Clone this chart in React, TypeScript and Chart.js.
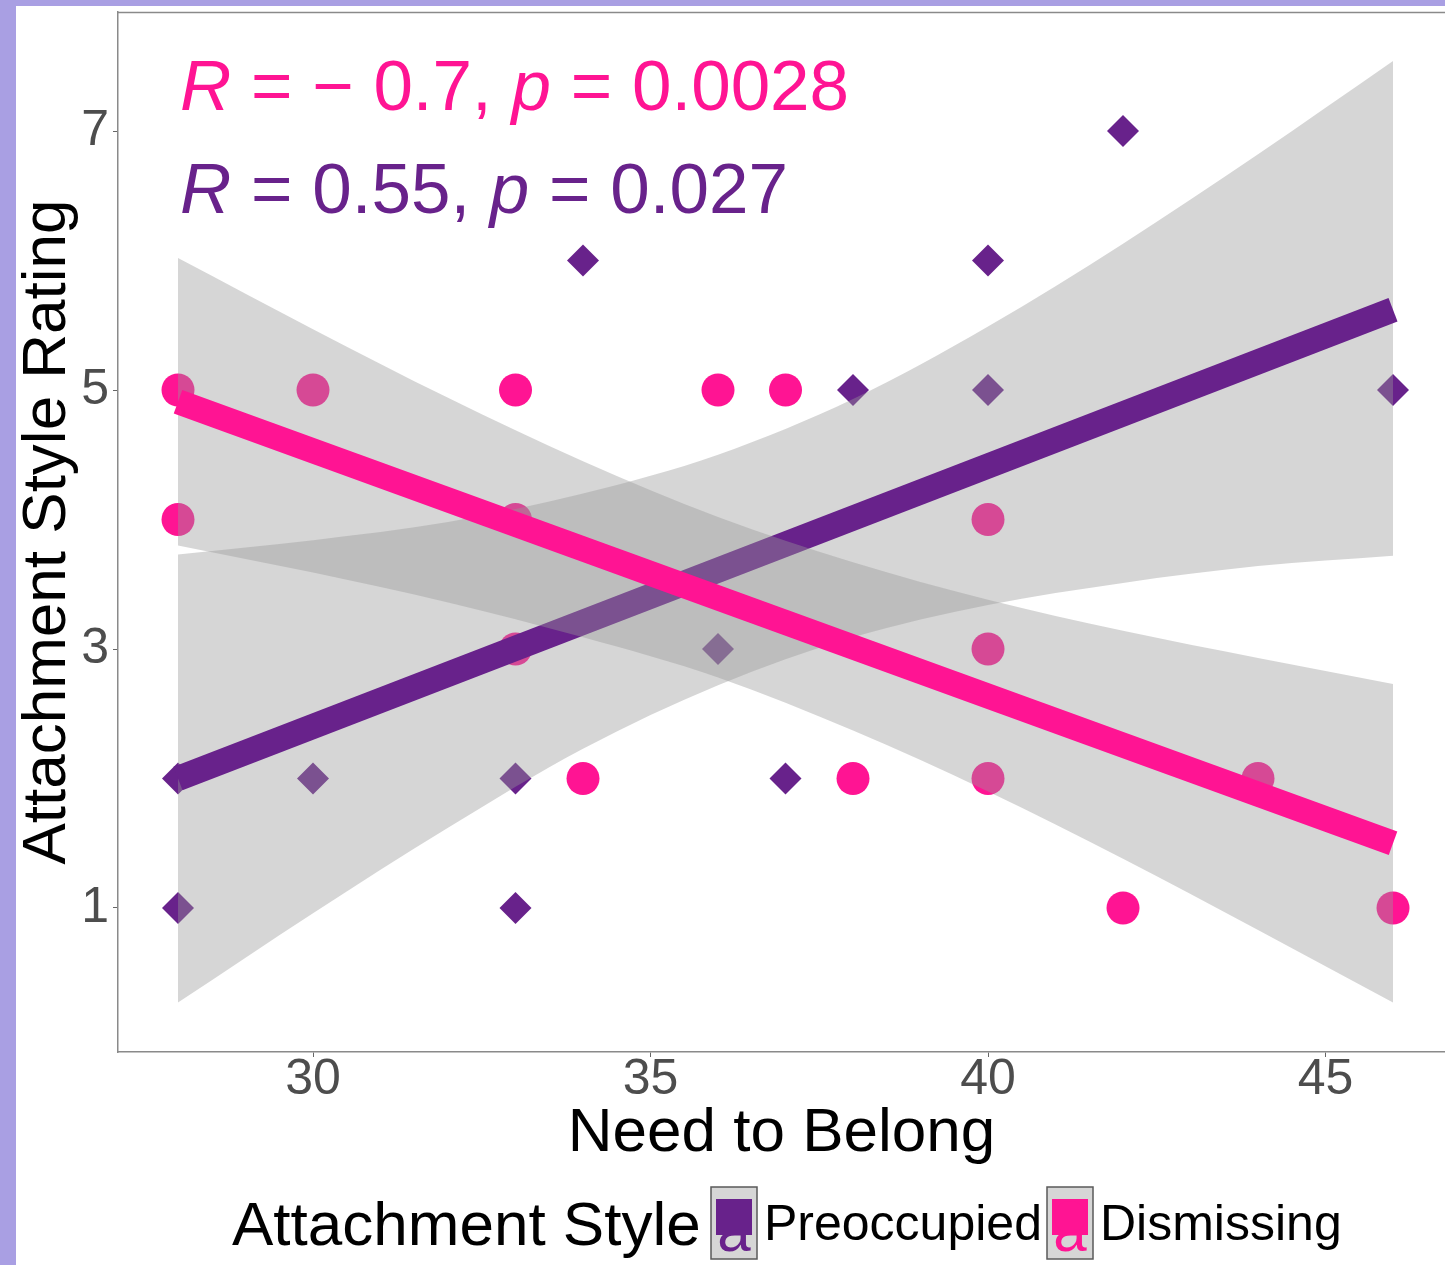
import React, { useEffect, useRef } from 'react';
import { Chart, registerables } from 'chart.js';

Chart.register(...registerables);

const FAMILY = '"Liberation Sans", Arial, Helvetica, sans-serif';
const PURPLE = '#68228B';
const PINK = '#FF1493';
const RIBBON = 'rgba(153,153,153,0.4)';
const KEY_FILL = '#D6D6D6';
const PAGE_BG = '#A99FE3';
const AXIS_COLOR = '#8A8A8A';
const TICK_TEXT = '#4D4D4D';

// ---- data ----
const seriesNames = ['Preoccupied', 'Dismissing'];

const preoccupiedX = [28, 28, 30, 33, 33, 34, 36, 37, 38, 40, 40, 42, 46];
const preoccupiedY = [2, 1, 2, 2, 1, 6, 3, 2, 5, 6, 5, 7, 5];

const dismissingX = [28, 28, 30, 33, 33, 33, 34, 36, 37, 38, 40, 40, 40, 42, 44, 46];
const dismissingY = [5, 4, 5, 5, 4, 3, 2, 5, 5, 2, 4, 3, 2, 1, 2, 1];

const fitX = [28, 46];
const preoccupiedFit = [2.0, 5.62];
const dismissingFit = [4.91, 1.5];

const bandX = [28, 30, 32, 34, 36, 38, 40, 42, 44, 46];
const preoccupiedUpper = [3.73, 3.84, 3.98, 4.2, 4.5, 4.93, 5.49, 6.13, 6.82, 7.54];
const preoccupiedLower = [0.27, 0.96, 1.62, 2.23, 2.72, 3.09, 3.34, 3.51, 3.64, 3.72];
const dismissingUpper = [6.02, 5.47, 4.94, 4.45, 4.02, 3.67, 3.38, 3.14, 2.93, 2.73];
const dismissingLower = [3.8, 3.59, 3.36, 3.09, 2.78, 2.37, 1.9, 1.38, 0.83, 0.27];

const xTickValues = [30, 35, 40, 45];
const yTickValues = [1, 3, 5, 7];

const corLines = [
  { r: '− 0.7', p: '0.0028', color: PINK },
  { r: '0.55', p: '0.027', color: PURPLE },
];

const xTitle = 'Need to Belong';
const yTitle = 'Attachment Style Rating';
const legendTitle = 'Attachment Style';

const pts = (xs: number[], ys: number[]) => xs.map((x, i) => ({ x, y: ys[i] }));

function drawRich(ctx: CanvasRenderingContext2D, x: number, y: number, parts: { t: string; i?: boolean }[], size: number, color: string) {
  let cx = x;
  ctx.fillStyle = color;
  ctx.textAlign = 'left';
  ctx.textBaseline = 'alphabetic';
  for (const p of parts) {
    ctx.font = `${p.i ? 'italic ' : ''}${size}px ${FAMILY}`;
    ctx.fillText(p.t, cx, y);
    cx += ctx.measureText(p.t).width;
  }
}

function drawKey(ctx: CanvasRenderingContext2D, x: number, y: number, color: string, shape: 'diamond' | 'circle') {
  const w = 46, h = 72;
  ctx.fillStyle = KEY_FILL;
  ctx.fillRect(x, y, w, h);
  ctx.strokeStyle = '#5A5A5A';
  ctx.lineWidth = 1.5;
  ctx.strokeRect(x, y, w, h);
  const cx = x + w / 2;
  ctx.fillStyle = color;
  ctx.font = `60px ${FAMILY}`;
  ctx.textAlign = 'center';
  ctx.textBaseline = 'alphabetic';
  ctx.fillText('a', cx, y + 64);
  ctx.fillRect(x + 5, y + 12, w - 10, 36);
  const cy = y + 30;
  ctx.beginPath();
  if (shape === 'diamond') {
    ctx.moveTo(cx - 16, cy);
    ctx.lineTo(cx, cy - 16);
    ctx.lineTo(cx + 16, cy);
    ctx.lineTo(cx, cy + 16);
    ctx.closePath();
  } else {
    ctx.arc(cx, cy, 16, 0, Math.PI * 2);
  }
  ctx.fill();
}

const overlayPlugin = {
  id: 'overlay',
  afterDatasetsDraw(chart: any) {
    const ctx: CanvasRenderingContext2D = chart.ctx;
    const a = chart.chartArea;
    ctx.save();
    ctx.strokeStyle = AXIS_COLOR;
    ctx.lineWidth = 1.5;
    ctx.beginPath();
    ctx.moveTo(a.left, a.top + 0.5);
    ctx.lineTo(a.right, a.top + 0.5);
    ctx.stroke();
    const baselines = [110, 213];
    corLines.forEach((c, i) => {
      drawRich(ctx, 180, baselines[i], [
        { t: 'R', i: true },
        { t: ' = ' + c.r + ', ' },
        { t: 'p', i: true },
        { t: ' = ' + c.p },
      ], 71, c.color);
    });
    ctx.restore();
  },
  afterDraw(chart: any) {
    const ctx: CanvasRenderingContext2D = chart.ctx;
    ctx.save();
    ctx.fillStyle = '#000';
    ctx.textAlign = 'left';
    ctx.textBaseline = 'alphabetic';
    ctx.font = `62px ${FAMILY}`;
    ctx.fillText(legendTitle, 232, 1245);
    drawKey(ctx, 711, 1187, PURPLE, 'diamond');
    ctx.fillStyle = '#000';
    ctx.textAlign = 'left';
    ctx.font = `50px ${FAMILY}`;
    ctx.fillText(seriesNames[0], 764, 1240);
    drawKey(ctx, 1047, 1187, PINK, 'circle');
    ctx.fillStyle = '#000';
    ctx.textAlign = 'left';
    ctx.font = `50px ${FAMILY}`;
    ctx.fillText(seriesNames[1], 1100, 1240);
    ctx.restore();
  },
};

const zeroPad = (scale: any) => {
  scale.paddingTop = 0;
  scale.paddingBottom = 0;
  scale.paddingLeft = 0;
  scale.paddingRight = 0;
};

export default function App() {
  const ref = useRef<HTMLCanvasElement | null>(null);

  useEffect(() => {
    if (!ref.current) return;
    Chart.defaults.font.family = FAMILY;
    const bandLine = (ys: number[], label: string, fill: any, order: number) => ({
      type: 'line' as const,
      label,
      data: pts(bandX, ys),
      borderColor: 'rgba(0,0,0,0)',
      borderWidth: 0,
      backgroundColor: RIBBON,
      pointRadius: 0,
      fill,
      cubicInterpolationMode: 'monotone' as const,
      order,
    });
    const chart = new Chart(ref.current, {
      type: 'line',
      data: {
        datasets: [
          {
            type: 'line',
            label: seriesNames[1] + ' fit',
            data: pts(fitX, dismissingFit),
            borderColor: PINK,
            borderWidth: 25,
            borderCapStyle: 'butt',
            pointRadius: 0,
            fill: false,
            order: 0,
          },
          bandLine(dismissingUpper, seriesNames[1] + ' upper', 2, 1),
          bandLine(dismissingLower, seriesNames[1] + ' lower', false, 2),
          {
            type: 'line',
            label: seriesNames[0] + ' fit',
            data: pts(fitX, preoccupiedFit),
            borderColor: PURPLE,
            borderWidth: 25,
            borderCapStyle: 'butt',
            pointRadius: 0,
            fill: false,
            order: 3,
          },
          bandLine(preoccupiedUpper, seriesNames[0] + ' upper', 5, 4),
          bandLine(preoccupiedLower, seriesNames[0] + ' lower', false, 5),
          {
            type: 'scatter',
            label: seriesNames[1],
            data: pts(dismissingX, dismissingY),
            backgroundColor: PINK,
            borderWidth: 0,
            pointStyle: 'circle',
            pointRadius: 16.5,
            order: 6,
          },
          {
            type: 'scatter',
            label: seriesNames[0],
            data: pts(preoccupiedX, preoccupiedY),
            backgroundColor: PURPLE,
            borderWidth: 0,
            pointStyle: 'rectRot',
            pointRadius: 16,
            order: 7,
          },
        ] as any,
      },
      options: {
        responsive: false,
        maintainAspectRatio: false,
        animation: false,
        events: [],
        layout: { autoPadding: false, padding: { top: 12, left: 0, right: 0, bottom: 0 } },
        plugins: {
          legend: { display: false },
          tooltip: { enabled: false },
        },
        scales: {
          x: {
            type: 'linear',
            position: 'bottom',
            min: 27.111,
            max: 46.77,
            afterBuildTicks: (scale: any) => {
              scale.ticks = xTickValues.map((value) => ({ value }));
            },
            afterFit: (scale: any) => {
              scale.height = 213;
              zeroPad(scale);
            },
            ticks: {
              color: TICK_TEXT,
              font: { size: 50, lineHeight: 1 },
              padding: -2,
              maxRotation: 0,
              autoSkip: false,
            },
            grid: { drawOnChartArea: false, drawTicks: true, tickLength: 5, color: '#666' },
            border: { display: true, color: AXIS_COLOR, width: 1.5 },
            title: {
              display: true,
              text: xTitle,
              color: '#000',
              font: { size: 62 },
              padding: { top: 0, bottom: 94 },
            },
          },
          y: {
            type: 'linear',
            min: -0.112,
            max: 7.919,
            afterBuildTicks: (scale: any) => {
              scale.ticks = yTickValues.map((value) => ({ value }));
            },
            afterFit: (scale: any) => {
              scale.width = 118;
              zeroPad(scale);
            },
            ticks: {
              color: TICK_TEXT,
              font: { size: 50 },
              padding: 4,
              autoSkip: false,
            },
            grid: { drawOnChartArea: false, drawTicks: true, tickLength: 5, color: '#666' },
            border: { display: true, color: AXIS_COLOR, width: 1.5 },
            title: {
              display: true,
              text: yTitle,
              color: '#000',
              font: { size: 62 },
              padding: { top: 11, bottom: 0 },
            },
          },
        },
      },
      plugins: [overlayPlugin],
    });
    return () => chart.destroy();
  }, []);

  return (
    <div style={{ position: 'absolute', left: 0, top: 0, width: 1445, height: 1265, background: PAGE_BG, overflow: 'hidden' }}>
      <div style={{ position: 'absolute', left: 16, top: 6, right: 0, bottom: 0, background: '#fff' }} />
      <canvas ref={ref} width={1445} height={1265} style={{ position: 'absolute', left: 0, top: 0, width: 1445, height: 1265 }} />
    </div>
  );
}
